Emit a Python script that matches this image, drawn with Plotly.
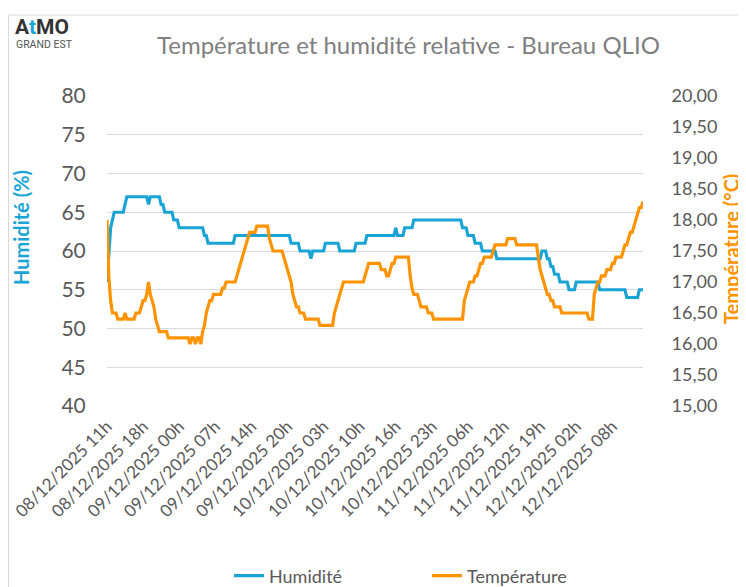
import pandas as pd
import plotly.graph_objects as go

# ---- data (20-minute readings starting 08/12/2025 11:20) ----
humidity = [
    56, 60, 63, 64, 65, 65, 65, 65, 65, 65, 66, 67, 67, 67, 67, 67, 67, 67, 67, 67,
    67, 67, 67, 66, 67, 67, 67, 67, 67, 67, 66, 66, 65, 65, 65, 65, 65, 64, 64, 64,
    63, 63, 63, 63, 63, 63, 63, 63, 63, 63, 63, 63, 63, 63, 62, 62, 61, 61, 61, 61,
    61, 61, 61, 61, 61, 61, 61, 61, 61, 61, 61, 62, 62, 62, 62, 62, 62, 62, 62, 62,
    62, 62, 62, 62, 62, 62, 62, 62, 62, 62, 62, 62, 62, 62, 62, 62, 62, 62, 62, 62,
    62, 62, 61, 61, 61, 61, 61, 60, 60, 60, 60, 60, 60, 59, 60, 60, 60, 60, 60, 60,
    60, 61, 61, 61, 61, 61, 61, 61, 61, 60, 60, 60, 60, 60, 60, 60, 60, 60, 61, 61,
    61, 61, 61, 61, 62, 62, 62, 62, 62, 62, 62, 62, 62, 62, 62, 62, 62, 62, 62, 62,
    63, 62, 62, 62, 62, 63, 63, 63, 63, 63, 64, 64, 64, 64, 64, 64, 64, 64, 64, 64,
    64, 64, 64, 64, 64, 64, 64, 64, 64, 64, 64, 64, 64, 64, 64, 64, 64, 63, 63, 63,
    62, 62, 62, 62, 61, 61, 61, 61, 60, 60, 60, 60, 60, 60, 60, 60, 59, 59, 59, 59,
    59, 59, 59, 59, 59, 59, 59, 59, 59, 59, 59, 59, 59, 59, 59, 59, 59, 59, 59, 59,
    59, 60, 60, 60, 59, 59, 58, 58, 57, 57, 57, 56, 56, 56, 56, 56, 55, 55, 55, 55,
    56, 56, 56, 56, 56, 56, 56, 56, 56, 56, 56, 56, 56, 55, 55, 55, 55, 55, 55, 55,
    55, 55, 55, 55, 55, 55, 55, 55, 54, 54, 54, 54, 54, 54, 54, 55, 55, 55,
]

temperature = [
    18.0, 17.1, 16.7, 16.5, 16.5, 16.5, 16.4, 16.4, 16.4, 16.4, 16.5, 16.4, 16.4, 16.4, 16.4, 16.4, 16.5, 16.5, 16.5, 16.6,
    16.7, 16.7, 16.8, 17.0, 16.8, 16.7, 16.6, 16.4, 16.3, 16.2, 16.2, 16.2, 16.2, 16.2, 16.1, 16.1, 16.1, 16.1, 16.1, 16.1,
    16.1, 16.1, 16.1, 16.1, 16.1, 16.1, 16.0, 16.1, 16.1, 16.0, 16.1, 16.1, 16.0, 16.2, 16.3, 16.5, 16.6, 16.7, 16.7, 16.8,
    16.8, 16.8, 16.8, 16.8, 16.9, 16.9, 17.0, 17.0, 17.0, 17.0, 17.0, 17.0, 17.1, 17.2, 17.3, 17.4, 17.5, 17.6, 17.7, 17.8,
    17.8, 17.8, 17.8, 17.9, 17.9, 17.9, 17.9, 17.9, 17.9, 17.9, 17.7, 17.6, 17.5, 17.5, 17.5, 17.5, 17.5, 17.5, 17.4, 17.3,
    17.2, 17.1, 17.0, 16.8, 16.7, 16.6, 16.6, 16.5, 16.5, 16.5, 16.4, 16.4, 16.4, 16.4, 16.4, 16.4, 16.4, 16.4, 16.3, 16.3,
    16.3, 16.3, 16.3, 16.3, 16.3, 16.3, 16.5, 16.6, 16.7, 16.8, 16.9, 17.0, 17.0, 17.0, 17.0, 17.0, 17.0, 17.0, 17.0, 17.0,
    17.0, 17.0, 17.0, 17.1, 17.2, 17.3, 17.3, 17.3, 17.3, 17.3, 17.3, 17.3, 17.2, 17.2, 17.2, 17.1, 17.1, 17.2, 17.3, 17.3,
    17.4, 17.4, 17.4, 17.4, 17.4, 17.4, 17.4, 17.4, 17.1, 16.9, 16.8, 16.8, 16.8, 16.7, 16.6, 16.6, 16.6, 16.6, 16.5, 16.5,
    16.5, 16.4, 16.4, 16.4, 16.4, 16.4, 16.4, 16.4, 16.4, 16.4, 16.4, 16.4, 16.4, 16.4, 16.4, 16.4, 16.4, 16.4, 16.7, 16.8,
    16.9, 17.0, 17.0, 17.0, 17.1, 17.1, 17.2, 17.3, 17.3, 17.4, 17.4, 17.4, 17.4, 17.4, 17.5, 17.6, 17.6, 17.6, 17.6, 17.6,
    17.6, 17.6, 17.7, 17.7, 17.7, 17.7, 17.7, 17.6, 17.6, 17.6, 17.6, 17.6, 17.6, 17.6, 17.6, 17.6, 17.6, 17.6, 17.6, 17.4,
    17.2, 17.1, 17.0, 16.9, 16.8, 16.8, 16.7, 16.7, 16.6, 16.6, 16.6, 16.6, 16.5, 16.5, 16.5, 16.5, 16.5, 16.5, 16.5, 16.5,
    16.5, 16.5, 16.5, 16.5, 16.5, 16.5, 16.5, 16.4, 16.4, 16.4, 16.8, 16.9, 17.0, 17.0, 17.1, 17.1, 17.1, 17.2, 17.2, 17.2,
    17.3, 17.3, 17.4, 17.4, 17.4, 17.4, 17.5, 17.6, 17.6, 17.7, 17.8, 17.8, 17.9, 18.0, 18.1, 18.2, 18.2, 18.3,
]

tick_labels = [
    "08/12/2025 11h", "08/12/2025 18h", "09/12/2025 00h", "09/12/2025 07h",
    "09/12/2025 14h", "09/12/2025 20h", "10/12/2025 03h", "10/12/2025 10h",
    "10/12/2025 16h", "10/12/2025 23h", "11/12/2025 06h", "11/12/2025 12h",
    "11/12/2025 19h", "12/12/2025 02h", "12/12/2025 08h",
]

times = pd.date_range("2025-12-08 11:20", periods=len(humidity), freq="20min")
tick_vals = list(times[::20][:len(tick_labels)])

BLUE = "#1AA3D5"
ORANGE = "#FF9300"
GREY = "#595959"
FONT = "Lato"

fig = go.Figure()
fig.add_trace(go.Scatter(x=times, y=humidity, name="Humidité", mode="lines",
                         line=dict(color=BLUE, width=3.2)))
fig.add_trace(go.Scatter(x=times, y=temperature, name="Température", mode="lines",
                         line=dict(color=ORANGE, width=3.2), yaxis="y2"))

# The page body adds an 8 px offset; the figure covers window pixels 8..746 / 8..587.
OFF = 8
W, H = 746 - OFF, 587 - OFF
L, T = 107 - OFF, 96 - OFF
R, B = W - (643 - OFF), H - (406 - OFF)
pw, ph = W - L - R, H - T - B

def px(x):  # window pixel -> paper x
    return (x - OFF - L) / pw

def py(y):  # window pixel -> paper y
    return (H - B - (y - OFF)) / ph

fig.update_layout(
    width=W, height=H, autosize=False,
    margin=dict(l=L, r=R, t=T, b=B, pad=0, autoexpand=False),
    paper_bgcolor="white", plot_bgcolor="white",
    separators=", ",
    font=dict(family=FONT, color=GREY),
    showlegend=True,
    legend=dict(orientation="h", xref="container", yref="container",
                x=(229 - OFF) / W, y=1 - (576 - OFF) / H, xanchor="left", yanchor="middle",
                entrywidth=153, entrywidthmode="pixels",
                font=dict(size=18, color=GREY, family=FONT), bgcolor="rgba(0,0,0,0)"),
    xaxis=dict(type="date", range=[times[0], times[-1]], tickmode="array",
               tickvals=tick_vals, ticktext=tick_labels, tickangle=-45, automargin=False,
               tickfont=dict(size=17, color=GREY, family=FONT),
               showgrid=False, zeroline=False, showline=False,
               ticks="outside", ticklen=3, tickcolor="rgba(0,0,0,0)"),
    yaxis=dict(range=[40, 80], dtick=5, tickfont=dict(size=21, color=GREY, family=FONT),
               automargin=False,
               showgrid=True, gridcolor="#D9D9D9", gridwidth=1, zeroline=False,
               showline=False, ticks="outside", ticklen=16, tickcolor="rgba(0,0,0,0)"),
    yaxis2=dict(range=[15, 20], dtick=0.5, tickformat=".2f", overlaying="y", side="right",
                automargin=False,
                tickfont=dict(size=18, color=GREY, family=FONT), showgrid=False,
                zeroline=False, showline=False, ticks="outside", ticklen=24,
                tickcolor="rgba(0,0,0,0)"),
)

fig.add_shape(type="rect", xref="paper", yref="paper", x0=px(8.5), x1=px(770),
              y0=py(620), y1=py(15), line=dict(color="#D9D9D9", width=1), layer="below")

fig.add_annotation(xref="paper", yref="paper", x=px(13), y=py(27), xanchor="left", yanchor="middle",
                   text="<b>A<span style='color:%s'>t</span>MO</b>" % BLUE, showarrow=False,
                   font=dict(size=21, color="#333333", family="Roboto"))
fig.add_annotation(xref="paper", yref="paper", x=px(14), y=py(45), xanchor="left", yanchor="middle",
                   text="GRAND EST", showarrow=False,
                   font=dict(size=10.5, color="#555555", family="Roboto"))
fig.add_annotation(xref="paper", yref="paper", x=px(408), y=py(45), xanchor="center", yanchor="middle",
                   text="Température et humidité relative - Bureau QLIO", showarrow=False,
                   font=dict(size=24, color="#7F7F7F", family=FONT))
fig.add_annotation(xref="paper", yref="paper", x=px(21), y=py(228), xanchor="center", yanchor="middle",
                   text="<b>Humidité (%)</b>", textangle=-90, showarrow=False,
                   font=dict(size=20, color=BLUE, family=FONT))
fig.add_annotation(xref="paper", yref="paper", x=px(731), y=py(249), xanchor="center", yanchor="middle",
                   text="<b>Température (°C)</b>", textangle=-90, showarrow=False,
                   font=dict(size=20, color=ORANGE, family=FONT))

fig.write_html("out.html")
